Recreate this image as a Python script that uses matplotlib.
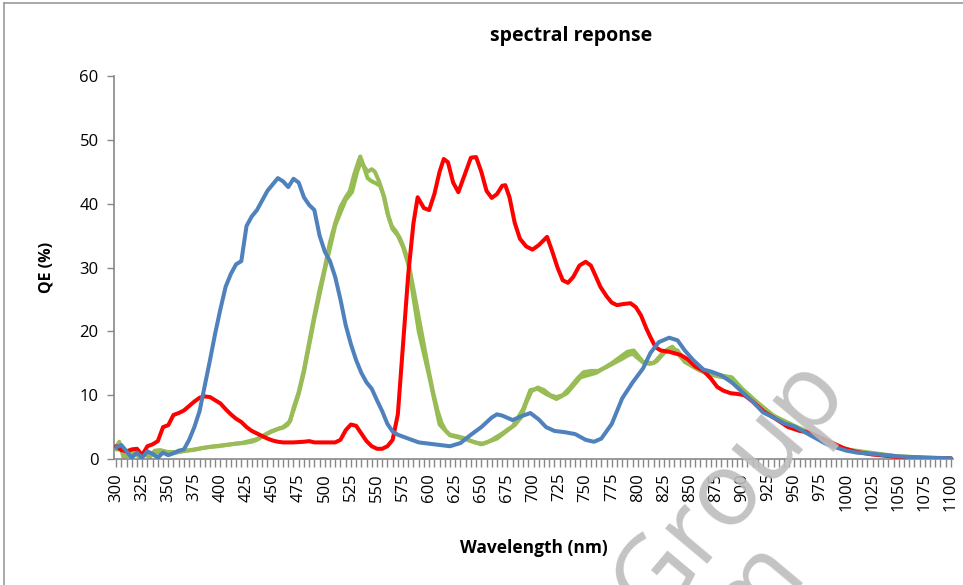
import matplotlib as mpl
mpl.use('Agg')
import matplotlib.pyplot as plt
from matplotlib.lines import Line2D

mpl.rcParams['font.family'] = ['Open Sans', 'DejaVu Sans']

# blue channel
wl_blue = [300, 305, 310, 315, 320, 325, 330, 335, 340, 345, 350, 355, 360, 365, 370, 375, 380, 385, 390, 395,
           400, 405, 410, 415, 420, 425, 430, 435, 440, 445, 450, 455, 460, 465, 470, 475, 480, 485, 490, 495,
           500, 505, 510, 515, 520, 525, 530, 535, 540, 545, 550, 555, 560, 565, 570, 575, 580, 590, 600, 610,
           620, 630, 640, 650, 660, 665, 670, 680, 690, 697, 705, 712, 720, 730, 740, 750, 758, 765, 775, 785,
           795, 805, 812, 820, 830, 838, 845, 853, 863, 870, 880, 890, 900, 910, 920, 930, 940, 950, 960, 970,
           980, 990, 1000, 1010, 1025, 1050, 1075, 1100]
qe_blue = [1.8, 2.2, 1.2, 0.2, 1.0, 0.2, 1.2, 0.8, 0.2, 1.0, 0.6, 0.9, 1.3, 1.5, 3.0, 5.0, 7.5, 11.5, 15.5, 19.7,
           23.5, 27.0, 29.0, 30.5, 31.0, 36.5, 38.0, 39.0, 40.5, 42.0, 43.0, 44.0, 43.5, 42.6, 43.9, 43.3, 41.0, 39.8, 39.0, 35.0,
           32.5, 31.0, 28.5, 25.0, 21.0, 18.0, 15.5, 13.5, 12.0, 11.0, 9.2, 7.5, 5.5, 4.3, 3.8, 3.5, 3.2, 2.6, 2.4, 2.2,
           2.0, 2.5, 3.8, 5.0, 6.5, 7.0, 6.8, 6.1, 6.8, 7.2, 6.2, 5.0, 4.4, 4.2, 3.9, 3.0, 2.7, 3.2, 5.5, 9.5,
           12.0, 14.2, 16.6, 18.3, 19.0, 18.6, 17.0, 15.5, 14.0, 13.7, 13.1, 12.0, 10.5, 9.0, 7.3, 6.5, 5.6, 5.1, 4.2, 3.3,
           2.4, 1.8, 1.3, 1.0, 0.8, 0.4, 0.2, 0.1]

# red channel
wl_red = [300, 305, 310, 315, 320, 325, 330, 335, 340, 345, 350, 355, 360, 365, 370, 375, 380, 385, 390, 395,
          400, 405, 410, 415, 420, 425, 430, 435, 440, 445, 450, 455, 460, 470, 480, 485, 490, 500, 510, 515,
          520, 525, 530, 535, 540, 545, 550, 555, 560, 565, 570, 575, 580, 585, 589, 595, 600, 605, 610, 614,
          618, 623, 628, 634, 640, 645, 650, 655, 660, 665, 670, 673, 677, 682, 687, 693, 699, 705, 713, 718,
          723, 728, 733, 738, 744, 750, 755, 760, 764, 770, 775, 780, 787, 793, 798, 803, 808, 812, 817, 822,
          830, 841, 848, 855, 863, 870, 876, 882, 889, 895, 902, 910, 921, 930, 944, 955, 963, 975, 985, 997,
          1010, 1025, 1050, 1075, 1100]
qe_red = [2.0, 1.4, 1.2, 1.5, 1.6, 0.6, 2.0, 2.3, 2.8, 5.0, 5.3, 6.9, 7.2, 7.6, 8.3, 9.0, 9.6, 9.8, 9.7, 9.2,
          8.7, 7.8, 7.0, 6.3, 5.8, 5.0, 4.4, 4.0, 3.6, 3.2, 2.9, 2.7, 2.6, 2.6, 2.7, 2.8, 2.6, 2.6, 2.6, 3.0,
          4.5, 5.4, 5.2, 4.0, 2.8, 2.0, 1.6, 1.6, 2.0, 3.0, 7.0, 18.0, 29.0, 37.0, 41.0, 39.3, 39.0, 41.5, 45.0, 47.0,
          46.5, 43.3, 41.8, 44.5, 47.2, 47.3, 45.0, 42.0, 40.9, 41.5, 42.8, 42.9, 41.0, 37.0, 34.5, 33.3, 32.8, 33.5, 34.8, 32.5,
          30.0, 28.0, 27.6, 28.5, 30.3, 30.9, 30.3, 28.5, 27.0, 25.5, 24.5, 24.1, 24.3, 24.4, 23.8, 22.5, 20.5, 19.1, 17.5, 17.0,
          16.8, 16.3, 15.6, 14.5, 13.8, 12.6, 11.3, 10.7, 10.3, 10.2, 10.0, 9.0, 7.4, 6.5, 5.0, 4.4, 4.2, 3.3, 2.6, 1.7,
          1.1, 0.7, 0.3, 0.15, 0.1]

# green channel (two pixels, nearly overlapping)
wl_green1 = [300, 303, 307, 312, 317, 322, 327, 332, 337, 342, 347, 352, 358, 365, 374, 382, 390, 398, 406, 414,
             422, 430, 435, 441, 448, 455, 460, 464, 467, 470, 475, 480, 485, 490, 495, 500, 505, 510, 515, 520,
             524, 528, 532, 534, 537, 541, 545, 548, 552, 556, 560, 564, 568, 572, 576, 580, 584, 588, 592, 596,
             600, 604, 608, 612, 616, 620, 626, 633, 640, 646, 652, 658, 664, 670, 676, 682, 688, 693, 698, 704,
             710, 716, 722, 728, 735, 742, 748, 755, 762, 770, 778, 785, 790, 795, 800, 806, 812, 818, 824, 831,
             838, 843, 848, 855, 863, 870, 878, 886, 893, 899, 908, 918, 928, 937, 947, 956, 966, 975, 985, 995,
             1005, 1025, 1050, 1075, 1100]
qe_green1 = [1.8, 2.7, 0.3, 0.5, 1.2, 0.3, 1.0, 0.2, 1.3, 1.4, 1.2, 1.0, 1.0, 1.3, 1.4, 1.7, 1.9, 2.0, 2.2, 2.4,
             2.5, 2.7, 3.0, 3.6, 4.2, 4.7, 4.9, 5.3, 6.0, 8.0, 10.5, 14.0, 18.3, 22.5, 26.5, 30.0, 34.0, 37.0, 39.5, 41.0,
             42.0, 44.5, 46.5, 47.4, 46.0, 45.0, 45.4, 45.0, 43.5, 41.5, 38.5, 36.5, 35.7, 34.6, 33.0, 31.0, 27.5, 24.0, 20.5, 17.0,
             13.5, 10.3, 7.6, 5.6, 4.4, 3.8, 3.6, 3.3, 2.8, 2.5, 2.4, 2.8, 3.4, 4.0, 4.7, 5.3, 6.5, 8.8, 10.6, 11.2,
             10.8, 10.0, 9.7, 10.0, 11.2, 12.6, 13.6, 13.8, 13.8, 14.4, 15.1, 15.7, 16.2, 16.5, 15.8, 15.0, 14.9, 15.3, 16.4, 17.4,
             17.0, 15.8, 15.0, 14.3, 13.6, 13.2, 12.9, 12.7, 11.8, 10.8, 9.5, 8.2, 7.0, 6.0, 5.1, 4.5, 3.9, 3.3, 2.5, 1.8,
             1.3, 0.8, 0.4, 0.2, 0.1]

wl_green2 = [300, 305, 310, 320, 330, 340, 350, 360, 375, 390, 405, 420, 435, 448, 460, 466, 470, 475, 480, 490,
             500, 510, 520, 526, 531, 535, 538, 541, 545, 549, 553, 557, 561, 565, 570, 575, 580, 590, 600, 610,
             620, 635, 650, 665, 680, 690, 697, 704, 712, 722, 732, 745, 760, 775, 790, 796, 805, 815, 825, 833,
             845, 860, 875, 890, 900, 915, 930, 950, 975, 1000, 1050, 1100]
qe_green2 = [1.5, 1.5, 0.4, 0.8, 0.6, 1.0, 1.1, 1.1, 1.5, 1.9, 2.2, 2.5, 3.1, 4.3, 5.0, 5.8, 7.6, 10.2, 13.6, 22.0,
             29.6, 36.6, 40.6, 41.8, 45.0, 46.8, 45.5, 44.0, 43.5, 43.2, 42.8, 41.0, 38.0, 36.0, 35.0, 33.2, 30.5, 20.0, 13.0, 5.4,
             3.7, 3.1, 2.3, 3.2, 5.1, 7.8, 10.8, 11.0, 10.2, 9.4, 10.3, 12.8, 13.5, 15.0, 16.8, 17.0, 15.2, 15.0, 16.8, 17.6,
             15.2, 13.8, 13.2, 12.8, 11.0, 8.8, 6.8, 5.2, 3.4, 1.5, 0.4, 0.1]

fig = plt.figure(figsize=(9.63, 5.85), dpi=100)
ax = fig.add_axes([114 / 963, 1 - 459 / 585, (953 - 114) / 963, (459 - 76) / 585])

lw = 2.9
ax.plot(wl_green2, qe_green2, color='#8FC04A', lw=lw, solid_capstyle='round', zorder=2)
ax.plot(wl_green1, qe_green1, color='#9BBB59', lw=lw, solid_capstyle='round', zorder=2)
ax.plot(wl_red, qe_red, color='#FF0000', lw=lw, solid_capstyle='round', zorder=3)
ax.plot(wl_blue, qe_blue, color='#4F81BD', lw=lw, solid_capstyle='round', zorder=4)

ax.set_xlim(298, 1102)
ax.set_ylim(0, 60)
ax.set_xticks(range(300, 1101, 25))
ax.set_xticks(range(300, 1101, 5), minor=True)
ax.set_yticks(range(0, 61, 10))
ax.tick_params(axis='x', which='both', direction='out', length=6, width=1, color='#888888',
               labelsize=12, labelrotation=90, pad=4)
ax.tick_params(axis='y', direction='out', length=5, width=1, color='#888888', labelsize=12, pad=6)

for s in ['top', 'right']:
    ax.spines[s].set_visible(False)
for s in ['left', 'bottom']:
    ax.spines[s].set_color('#888888')
    ax.spines[s].set_linewidth(1.2)

ax.set_ylabel('QE (%)', fontsize=11.5, fontweight='bold', labelpad=18)
ax.set_xlabel('Wavelength (nm)', fontsize=12.5, fontweight='bold', labelpad=20)
fig.text(571 / 963, 1 - 36 / 585, 'spectral reponse', ha='center', va='center', fontsize=14, fontweight='bold')

# chart area border
fig.add_artist(Line2D([4 / 963, 4 / 963], [0, 1 - 3 / 585], color='#999999', lw=1.2))
fig.add_artist(Line2D([4 / 963, 1], [1 - 3 / 585, 1 - 3 / 585], color='#999999', lw=1.2))

# watermark
fig.text(730 / 963, 1 - 488 / 585, 'Group', fontsize=74, color='#BDBDBD', rotation=50,
         ha='center', va='center', zorder=0, alpha=0.9)
fig.text(755 / 963, 1 - 590 / 585, 'm', fontsize=74, color='#BDBDBD', rotation=50,
         ha='center', va='center', zorder=0, alpha=0.9)

fig.savefig('out.png', dpi=100)
